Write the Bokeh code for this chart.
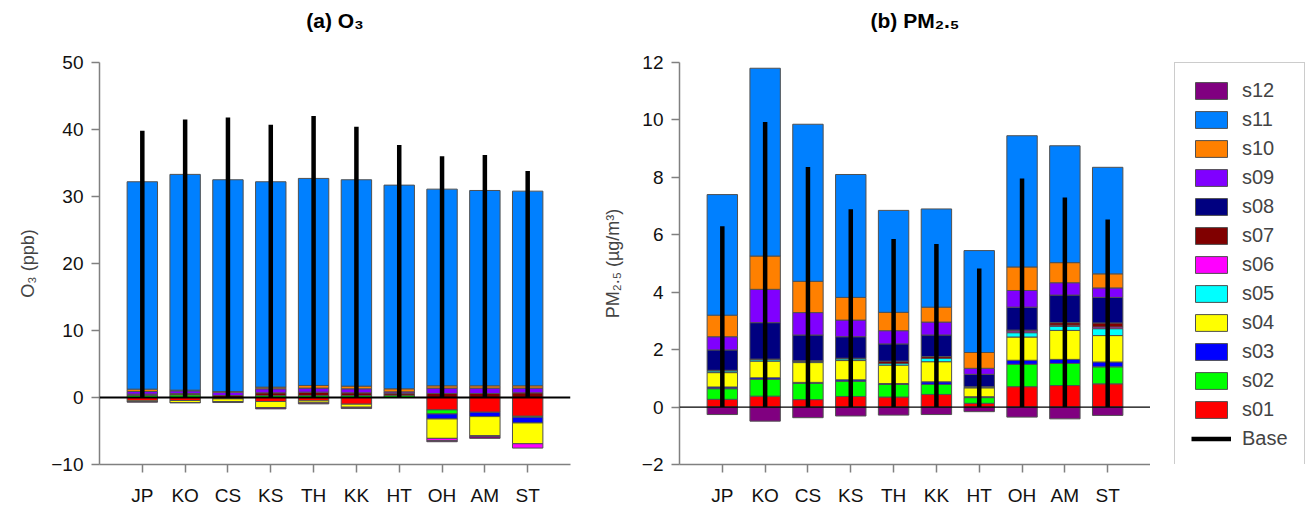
import numpy as np
from bokeh.plotting import figure
from bokeh.models import (Range1d, Span, Legend, LegendItem, FixedTicker,
                          ColumnDataSource, LinearAxis)
from bokeh.layouts import row
from bokeh.embed import file_html
from bokeh.resources import INLINE

sites = ["JP", "KO", "CS", "KS", "TH", "KK", "HT", "OH", "AM", "ST"]
sources = ["s01", "s02", "s03", "s04", "s05", "s06", "s07", "s08", "s09", "s10", "s11", "s12"]
colors = ["#FF0000", "#00FF00", "#0000FF", "#FFFF00", "#00FFFF", "#FF00FF",
          "#800000", "#000080", "#8000FF", "#FF8000", "#0080FF", "#800080"]

# ---- O3 (ppb) contributions by source ----
o3_s01 = [-0.5, -0.45, -0.2, -0.6, -0.5, -1.0, 0.0, -1.85, -2.2, -2.8]
o3_s02 = [0.3, 0.4, 0.0, 0.3, 0.3, 0.3, 0.35, -0.6, 0.0, -0.15]
o3_s03 = [0.0, 0.0, 0.0, 0.0, 0.0, 0.0, 0.0, -0.75, -0.65, -0.85]
o3_s04 = [-0.1, -0.3, -0.4, -0.9, -0.3, -0.45, 0.0, -2.9, -2.85, -3.1]
o3_s05 = [0.0, 0.0, 0.0, 0.0, 0.0, 0.0, 0.0, 0.0, 0.0, 0.0]
o3_s06 = [0.0, 0.0, 0.0, 0.0, 0.0, 0.0, 0.0, -0.35, -0.1, -0.65]
o3_s07 = [0.2, 0.2, 0.3, 0.4, 0.5, 0.4, 0.3, 0.6, 0.6, 0.7]
o3_s08 = [0.0, 0.0, 0.0, 0.0, 0.0, 0.0, 0.0, 0.0, 0.0, 0.0]
o3_s09 = [0.4, 0.4, 0.5, 0.6, 0.6, 0.6, 0.2, 0.8, 0.8, 0.7]
o3_s10 = [0.35, 0.1, 0.1, 0.25, 0.4, 0.4, 0.45, 0.35, 0.35, 0.35]
o3_s11 = [30.95, 32.2, 31.6, 30.65, 30.9, 30.8, 30.4, 29.35, 29.15, 29.05]
o3_s12 = [-0.1, -0.05, -0.15, -0.2, -0.15, -0.2, 0.0, -0.15, -0.3, 0.0]
o3_base = [39.8, 41.5, 41.8, 40.7, 42.0, 40.4, 37.7, 36.0, 36.2, 33.8]

# ---- PM2.5 (ug/m3) contributions by source ----
pm_s01 = [0.27, 0.38, 0.26, 0.37, 0.35, 0.44, 0.13, 0.71, 0.75, 0.81]
pm_s02 = [0.37, 0.58, 0.57, 0.53, 0.44, 0.35, 0.2, 0.78, 0.77, 0.59]
pm_s03 = [0.06, 0.06, 0.03, 0.05, 0.03, 0.09, 0.03, 0.14, 0.14, 0.17]
pm_s04 = [0.5, 0.58, 0.69, 0.67, 0.64, 0.7, 0.31, 0.81, 1.01, 0.92]
pm_s05 = [0.06, 0.05, 0.04, 0.06, 0.06, 0.12, 0.03, 0.15, 0.14, 0.24]
pm_s06 = [0.0, 0.0, 0.0, 0.0, 0.0, 0.0, 0.0, 0.06, 0.04, 0.06]
pm_s07 = [0.02, 0.02, 0.02, 0.02, 0.08, 0.06, 0.01, 0.03, 0.09, 0.14]
pm_s08 = [0.71, 1.27, 0.9, 0.75, 0.6, 0.75, 0.43, 0.8, 0.96, 0.89]
pm_s09 = [0.46, 1.16, 0.78, 0.58, 0.46, 0.45, 0.21, 0.58, 0.43, 0.33]
pm_s10 = [0.75, 1.16, 1.09, 0.79, 0.64, 0.52, 0.55, 0.82, 0.7, 0.49]
pm_s11 = [4.2, 6.54, 5.47, 4.28, 3.55, 3.42, 3.55, 4.57, 4.07, 3.71]
pm_s12 = [-0.26, -0.49, -0.37, -0.31, -0.28, -0.26, -0.16, -0.35, -0.41, -0.29]
pm_base = [6.3, 9.93, 8.36, 6.89, 5.85, 5.68, 4.83, 7.96, 7.3, 6.53]

o3_series = [o3_s01, o3_s02, o3_s03, o3_s04, o3_s05, o3_s06,
             o3_s07, o3_s08, o3_s09, o3_s10, o3_s11, o3_s12]
pm_series = [pm_s01, pm_s02, pm_s03, pm_s04, pm_s05, pm_s06,
             pm_s07, pm_s08, pm_s09, pm_s10, pm_s11, pm_s12]

FONT = "Liberation Sans"
BAR_LINE = "#505050"
xpos = list(range(1, len(sites) + 1))


def make_panel(title, width, border_left, border_right, yr, yticks, ylabel,
               series, base, zero_width, label_standoff):
    p = figure(width=width, height=519, x_range=Range1d(0, 11), y_range=Range1d(*yr),
               output_backend="svg", toolbar_location=None,
               min_border_left=border_left, min_border_right=border_right,
               min_border_top=62, min_border_bottom=55)
    p.xgrid.visible = False
    p.ygrid.visible = False
    p.outline_line_color = None

    xax = p.below[0]
    yax = p.left[0]
    for ax in (xax, yax):
        ax.axis_line_color = "#808080"
        ax.axis_line_width = 1.5
        ax.major_tick_line_color = "#808080"
        ax.major_tick_line_width = 1.5
        ax.major_tick_out = 8
        ax.major_tick_in = 0
        ax.minor_tick_line_color = None
        ax.major_label_text_font = FONT
        ax.major_label_text_font_size = "19px"
        ax.major_label_text_color = "#111111"
    xax.ticker = FixedTicker(ticks=xpos)
    xax.major_label_overrides = {x: s for x, s in zip(xpos, sites)}
    xax.major_label_standoff = 12
    yax.ticker = FixedTicker(ticks=yticks)
    yax.major_label_standoff = 8
    yax.axis_label = ylabel
    yax.axis_label_text_font = FONT
    yax.axis_label_text_font_size = "18px"
    yax.axis_label_text_font_style = "normal"
    yax.axis_label_standoff = label_standoff

    # panel heading, drawn as the label of an empty top axis
    head = LinearAxis(ticker=FixedTicker(ticks=[]), axis_line_color=None,
                      major_tick_out=0, major_tick_in=0, minor_tick_line_color=None,
                      major_label_text_font_size="1px",
                      axis_label=title, axis_label_standoff=31,
                      axis_label_text_font=FONT, axis_label_text_font_size="21px",
                      axis_label_text_font_style="bold", axis_label_text_color="black")
    p.add_layout(head, "above")

    pos = np.zeros(len(sites))
    neg = np.zeros(len(sites))
    for name, col, vals in zip(sources, colors, series):
        v = np.array(vals, dtype=float)
        bottom = np.where(v >= 0, pos, neg)
        top = bottom + v
        pos = np.where(v >= 0, top, pos)
        neg = np.where(v < 0, top, neg)
        keep = v != 0
        src = ColumnDataSource(dict(x=np.array(xpos)[keep], top=top[keep], bottom=bottom[keep]))
        p.vbar(x="x", top="top", bottom="bottom", width=0.71, source=src,
               fill_color=col, line_color=BAR_LINE, line_width=1)

    p.add_layout(Span(location=0, dimension="width", line_color="black", line_width=zero_width))
    bsrc = ColumnDataSource(dict(x=xpos, y0=[0] * len(xpos), y1=base))
    p.segment(x0="x", y0="y0", x1="x", y1="y1", source=bsrc,
              line_color="black", line_width=4.5, line_cap="butt")
    return p


p1 = make_panel("(a) O₃", 595, 99, 25, (-10, 50), [-10, 0, 10, 20, 30, 40, 50],
                "O₃ (ppb)", o3_series, o3_base, 2, 10)
p2 = make_panel("(b) PM₂.₅", 555, 84, 0, (-2, 12), [-2, 0, 2, 4, 6, 8, 10, 12],
                "PM₂.₅ (µg/m³)", pm_series, pm_base, 1.2, 16)

# legend panel (key entries only; their glyphs hold no visible data)
p3 = figure(width=161, height=519, x_range=Range1d(0, 1), y_range=Range1d(0, 1),
            output_backend="svg", toolbar_location=None,
            min_border_left=24, min_border_right=0, min_border_top=62, min_border_bottom=55,
            x_axis_location=None, y_axis_location=None)
p3.grid.visible = False
p3.outline_line_color = None
nan = float("nan")
items = []
for name, col in list(zip(sources, colors))[::-1]:
    r = p3.vbar(x=[nan], top=[nan], width=0.5, fill_color=col, line_color=BAR_LINE, line_width=1)
    items.append(LegendItem(label=name, renderers=[r]))
rb = p3.segment(x0=[nan], y0=[nan], x1=[nan], y1=[nan], line_color="black", line_width=4.5)
items.append(LegendItem(label="Base", renderers=[rb]))
legend = Legend(items=items, location="top_left", orientation="vertical",
                glyph_width=40, glyph_height=21, label_height=21, spacing=6,
                padding=16, label_standoff=11, margin=0,
                label_text_font=FONT, label_text_font_size="20px",
                border_line_color="#999999", border_line_width=1.2,
                background_fill_color="white", background_fill_alpha=1.0)
p3.add_layout(legend, "center")

layout = row(p1, p2, p3)
open("out.html", "w").write(file_html(layout, INLINE))
